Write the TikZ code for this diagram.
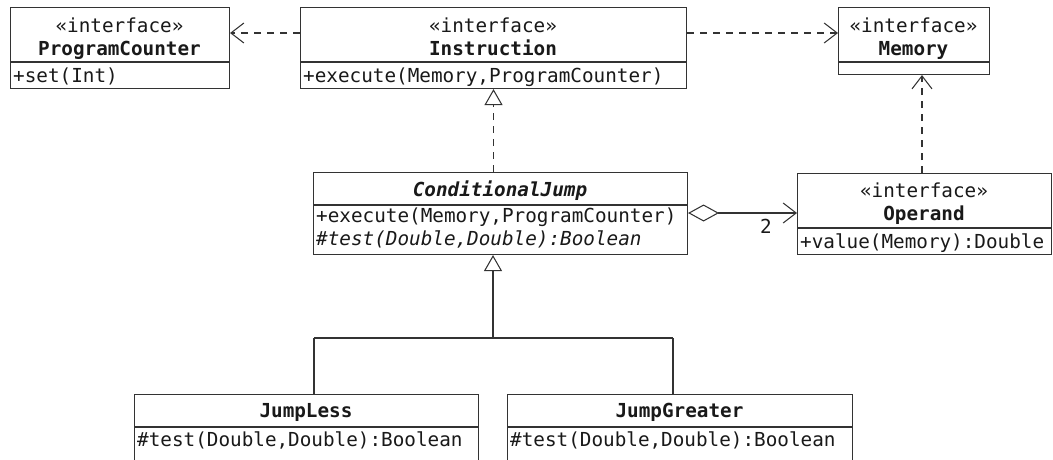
\documentclass[tikz,border=0pt]{standalone}
\usepackage{fontspec}
\setmonofont{DejaVu Sans Mono}
\usetikzlibrary{arrows.meta}
\definecolor{linec}{HTML}{333333}
\newcommand\umlfont{\ttfamily\fontsize{19.3pt}{23pt}\selectfont}
\tikzset{
  lw/.style={line width=1.05pt},
  cls/.style={draw=linec, lw, inner sep=0pt, anchor=north west, fill=white},
  sep/.style={draw=linec, lw},
  ctr/.style={inner sep=0pt, anchor=base, font=\umlfont, text=black!90},
  lft/.style={inner sep=0pt, anchor=base west, font=\umlfont, text=black!90},
  dep/.style={draw=linec, lw, dash pattern=on 7pt off 6pt,
    -{Straight Barb[length=13pt,width=20pt]}},
  realz/.style={draw=linec, lw, dash pattern=on 7pt off 6pt,
    -{Triangle[open,length=16pt,width=18pt]}},
  genz/.style={draw=linec, lw, -{Triangle[open,length=16pt,width=18pt]}},
  plain/.style={draw=linec, lw},
  aggz/.style={draw=linec, lw,
    {Diamond[open,length=31pt,width=17pt]}-{Straight Barb[length=13pt,width=20pt]}},
}
\begin{document}
\begin{tikzpicture}[x=1pt,y=-1pt]
\useasboundingbox (0,0) rectangle (1053,459);

% class boxes
\node[cls, minimum width=219pt, minimum height=81pt] (pc) at (10,7) {};
\draw[sep] (10,62) -- (229,62);
\node[cls, minimum width=386pt, minimum height=81pt] (instr) at (300,7) {};
\draw[sep] (300,62) -- (686,62);
\node[cls, minimum width=151pt, minimum height=67pt] (mem) at (838,7) {};
\draw[sep] (838,62) -- (989,62);
\node[cls, minimum width=374pt, minimum height=82pt] (cj) at (313,172) {};
\draw[sep] (313,205) -- (687,205);
\node[cls, minimum width=254pt, minimum height=81pt] (op) at (797,173) {};
\draw[sep] (797,228) -- (1051,228);
\node[cls, minimum width=344pt, minimum height=100pt] (jl) at (134,394) {};
\draw[sep] (134,427) -- (478,427);
\node[cls, minimum width=345pt, minimum height=100pt] (jg) at (507,394) {};
\draw[sep] (507,427) -- (852,427);

% texts
\node[ctr] (pcst) at (119.5,32) {«interface»};
\node[ctr] (pcname) at (119.5,55) {\bfseries ProgramCounter};
\node[lft] (pcop) at (13,82) {+set(Int)};

\node[ctr] (inst) at (493,32) {«interface»};
\node[ctr] (inname) at (493,55) {\bfseries Instruction};
\node[lft] (inop) at (303,82) {+execute(Memory,ProgramCounter)};

\node[ctr] (mest) at (913.5,32) {«interface»};
\node[ctr] (mename) at (913.5,55) {\bfseries Memory};

\node[ctr] (cjname) at (500,196) {\bfseries\itshape ConditionalJump};
\node[lft] (cjop1) at (316,222) {+execute(Memory,ProgramCounter)};
\node[lft] (cjop2) at (316,245) {\itshape \#test(Double,Double):Boolean};

\node[ctr] (opst) at (924,197) {«interface»};
\node[ctr] (opname) at (924,220) {\bfseries Operand};
\node[lft] (opop) at (800,248) {+value(Memory):Double};

\node[ctr] (jlname) at (306,417) {\bfseries JumpLess};
\node[lft] (jlop) at (137,446) {\#test(Double,Double):Boolean};

\node[ctr] (jgname) at (679.5,417) {\bfseries JumpGreater};
\node[lft] (jgop) at (510,446) {\#test(Double,Double):Boolean};

% connectors
\coordinate (toprow) at (0,33);
\draw[dep] (instr.west |- toprow) -- (pc.east |- toprow);
\draw[dep] (instr.east |- toprow) -- (mem.west |- toprow);
\coordinate (opx) at (922,0);
\draw[dep] (opx |- op.north) -- (opx |- mem.south);
\draw[realz] (instr.south |- cj.north) -- (instr.south);

\coordinate (bus) at (493,338);
\coordinate (jlx) at (314,338);
\coordinate (jgx) at (673,338);
\draw[genz] (bus) -- (bus |- cj.south);
\draw[plain] (jlx) -- (jgx);
\draw[plain] (jlx) -- (jlx |- jl.north);
\draw[plain] (jgx) -- (jgx |- jg.north);

\coordinate (aggy) at (0,213);
\draw[aggz] (cj.east |- aggy) -- (op.west |- aggy);
\node[ctr, anchor=center] (mult) at (766,226) {2};
\end{tikzpicture}
\end{document}
